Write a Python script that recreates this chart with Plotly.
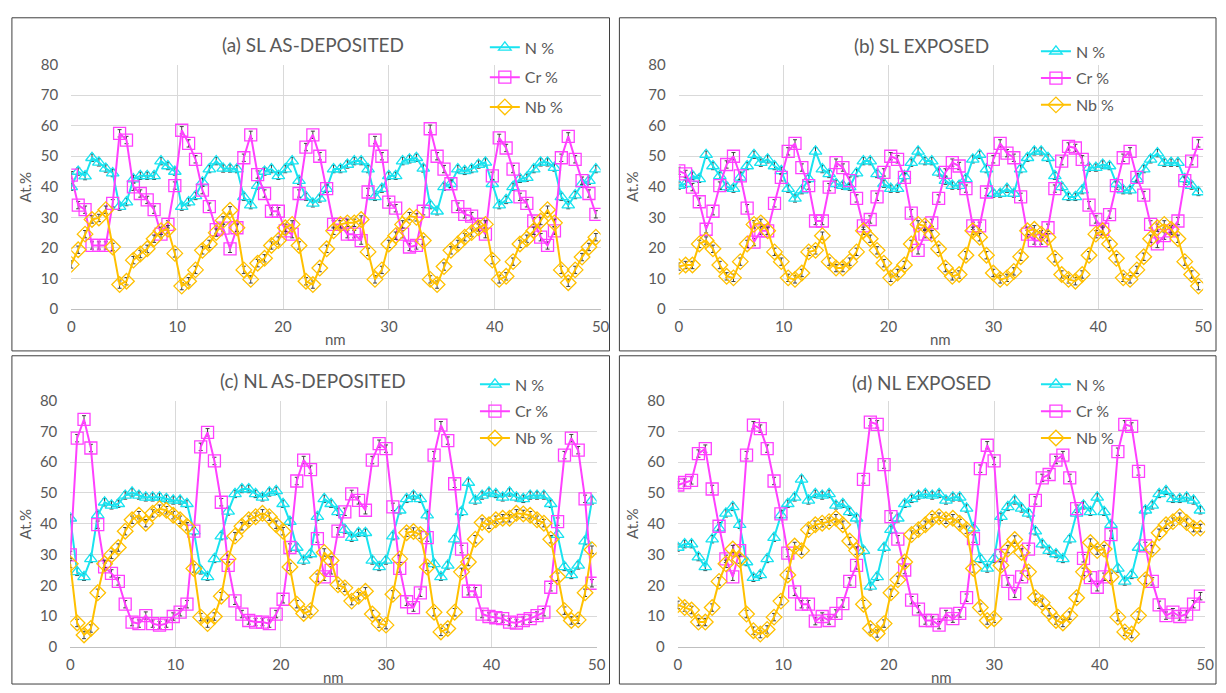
import plotly.graph_objects as go

# ---------------- data ----------------
STEP_NM = 0.652
N_POINTS = 77
depth_nm = [round(i * STEP_NM, 3) for i in range(N_POINTS)]

x_ticks = [0, 10, 20, 30, 40, 50]
y_ticks = [0, 10, 20, 30, 40, 50, 60, 70, 80]

panel_titles = ["(a) SL AS-DEPOSITED", "(b) SL EXPOSED", "(c) NL AS-DEPOSITED", "(d) NL EXPOSED"]
series_names = ["N %", "Cr %", "Nb %"]

# (a) SL as-deposited
a_N = [40, 45, 43.5, 49.5, 48, 46, 44.5, 33.5, 35, 42.5, 43.6, 43.6, 43.6, 48.4, 46.8, 45, 33.5, 35, 37, 41.5,
       45.8, 48.4, 46, 46, 45.8, 36.7, 34, 40.4, 45, 45.8, 43.6, 45.8, 48.4, 42, 36.7, 34.6, 36.2, 39.4, 45.8, 45.8,
       47.3, 48.4, 48.4, 45.8, 36.7, 39.4, 43.6, 43.6, 48.4, 49, 49.5, 46, 34, 32, 40, 41, 45.8, 45.2, 45.8, 47.3,
       48, 41, 34, 35.7, 40, 42.6, 43, 45.8, 48, 48, 46.3, 36.7, 34, 37.3, 41, 42, 45.8]
a_Cr = [43.8, 34, 32.5, 20.8, 20.8, 20.8, 34.6, 57.5, 55.3, 40, 37.8, 35.7, 32.5, 24.5, 27.7, 40.4, 58.5, 54.2, 49, 38.9,
        33.5, 26, 26.5, 19.7, 26.6, 49.5, 57, 44, 37.8, 32, 32, 25.6, 24.5, 37.8, 53, 57, 50, 39.4, 27.7, 27.7,
        24.5, 24.5, 22.4, 38.3, 55.3, 50, 35, 33, 24.5, 20.3, 20.8, 32, 59, 50, 45.8, 41, 33.5, 31, 30.4, 27.7,
        24.5, 43.6, 56, 52.7, 45.8, 36.7, 34.6, 28.8, 23.5, 20.8, 25.6, 49.5, 56.5, 49, 42, 37.8, 31]
a_Nb = [14.6, 19.4, 24.5, 29.3, 29.8, 32.5, 20.3, 8, 9.1, 16, 18, 19.7, 23, 25.6, 26.1, 18.2, 7.5, 9.1, 12.8, 19.2,
        21.3, 25, 29, 32.3, 26.6, 12.8, 9.7, 15, 16.6, 20.8, 22.4, 26.6, 27.7, 20.8, 9.1, 8, 13.4, 19.7, 25.6, 27.7,
        28.2, 28.2, 29.3, 18.7, 9.7, 12.8, 21.3, 24, 27.7, 30.4, 30, 22.4, 9.7, 8, 13.9, 19.2, 21.3, 23.5, 25, 26.6,
        27.7, 16, 9.7, 10.7, 15.5, 21.3, 23, 25.6, 28.8, 32.5, 28.2, 12.8, 8.6, 12.8, 17, 20.3, 23.5]

# (b) SL exposed
b_N = [40.4, 41, 43.6, 42.6, 50.5, 46.8, 43.6, 40, 39.4, 43.1, 46.8, 50.5, 47.9, 49, 46.8, 45.2, 39.4, 36.2, 38.9, 42.6,
       51.6, 45.8, 44.2, 41, 40.4, 40, 44.5, 48.4, 48.4, 44.2, 41, 39.4, 39.4, 43.6, 47.9, 51.6, 48.4, 48.4, 44.7, 42,
       40.4, 40.4, 42.6, 49, 50.5, 45.8, 37.8, 37.8, 39.4, 37.8, 45.8, 49.5, 51.6, 51.6, 49.5, 43.6, 40, 36.7, 36.7, 38.9,
       46.3, 46.3, 47.3, 46.8, 41, 38.9, 38.9, 42.6, 45.8, 49, 51, 47.9, 47.9, 47.9, 42.6, 40.4, 38.3]
b_Cr = [45.2, 44.2, 39.9, 35.1, 26.1, 32, 40.4, 47.3, 50, 43.6, 33, 21.9, 25.6, 25.6, 34.6, 43.1, 51.6, 54.2, 46.3, 40.4,
        28.8, 28.8, 39.9, 47.9, 46.3, 42, 36.2, 27.2, 29.3, 36.7, 44.7, 50, 49, 43.1, 31.4, 19.2, 24.5, 28.2, 36.2, 44.7,
        47.9, 46.8, 39.4, 27.2, 27.2, 38.3, 49, 54.2, 51, 49.5, 36.7, 24.5, 22.4, 22.4, 26.6, 39.4, 48.4, 53.2, 52.7, 49,
        34, 29.3, 26.1, 30.9, 40.4, 49.5, 51.6, 43.1, 37.3, 27.7, 21.3, 24, 25.6, 28.8, 42, 48.4, 54.2]
b_Nb = [13.9, 14.4, 14.4, 21.3, 22.4, 19.7, 14.4, 10.7, 10.2, 15.5, 21.3, 27.7, 28.2, 25.6, 18.7, 15.5, 10.2, 9.7, 11.8, 18.7,
        19.2, 24, 15.5, 13.4, 13.4, 15.5, 18.7, 25.6, 23, 19.2, 15, 10.2, 11.8, 14.4, 21.3, 27.7, 27.2, 24.5, 19.7, 13.4,
        10.7, 11.3, 17.6, 25.6, 23.5, 17.6, 11.8, 9.7, 10.2, 12.3, 17.1, 25.6, 26.1, 24.5, 23.5, 16.6, 11.3, 9.7, 9.1, 11.3,
        17.6, 24.5, 25.6, 21.3, 16.6, 10.2, 9.7, 12.8, 17.1, 23, 26.6, 27.7, 26.1, 23, 15.5, 11.3, 7.5]

# (c) NL as-deposited
c_N = [41.8, 24.4, 22.8, 28.6, 42.8, 47, 46, 46.5, 49.2, 50.2, 49.2, 48.6, 48.6, 48.6, 48.1, 47.6, 47.6, 46.5, 37.6, 24.9,
       22.8, 28.6, 36, 44, 49.7, 51.3, 51.3, 49.7, 48.6, 50.2, 50.7, 46.5, 40.7, 32.3, 28.1, 30.2, 42.3, 48.1, 46.5, 43.9,
       38.1, 35.5, 37.1, 37.1, 28.1, 26, 28.1, 36, 44.4, 48.1, 49.2, 48.1, 42.8, 27, 22.8, 26.5, 35, 43.9, 53.4, 47.6,
       49.2, 50.2, 49.7, 48.6, 50.2, 48.6, 48.1, 49.2, 49.2, 49.2, 46.5, 36.5, 26, 23.4, 26.5, 34.4, 47.6]
c_Cr = [29.9, 67.8, 73.9, 64.6, 39.7, 26, 23.9, 21.3, 13.9, 8.1, 7.6, 10.2, 7.6, 7.1, 7.6, 9.9, 11.3, 13.9, 37.6, 65,
        69.7, 60.4, 47, 26.5, 15, 10.7, 8.6, 8.1, 8.1, 7.6, 10.7, 15.5, 32.3, 53.9, 60.7, 57.6, 35.2, 22.8, 24.9, 37.6,
        43.9, 49.7, 47.6, 44.4, 60.7, 66, 64.4, 45.5, 25.5, 14.7, 12.8, 17.6, 35.5, 62.3, 72, 67, 53, 31.8, 18.1, 18.1,
        10.7, 9.9, 9.5, 9.2, 8.1, 7.8, 8.6, 9.2, 10.2, 11.3, 19.4, 40.7, 62.3, 67.8, 63.9, 48.1, 20.7]
c_Nb = [27, 7.8, 3.9, 6, 17.6, 27, 29.9, 32.3, 37.6, 41.3, 42.8, 40.2, 43.4, 44.9, 44.4, 42.8, 41.3, 39.2, 25.5, 9.7,
        7.6, 9.9, 16.5, 28.6, 36, 39.2, 41.3, 42.3, 43.4, 42.3, 39.7, 37.6, 26, 13.9, 10.9, 11.8, 22.5, 30.7, 28.1, 20.2,
        19.2, 14.9, 16.5, 18.1, 10.7, 7.6, 7.1, 17.1, 28.6, 37.1, 37.5, 36.5, 26, 11.3, 4.9, 6, 11.3, 24.4, 27.6, 35,
        40.4, 39.7, 41.3, 41.8, 41.8, 43.4, 43.2, 42.8, 41.3, 40.2, 35, 22.8, 11.8, 8.6, 8.8, 17.6, 31.6]

# (d) NL exposed
d_N = [32.3, 33.4, 33.4, 29.2, 26, 35, 38.6, 43.4, 45.5, 39.7, 27.6, 22.5, 23.4, 28.6, 35.5, 42.8, 46.5, 48.6, 54.4, 47.6,
       49.7, 49.2, 49.7, 46, 46.5, 43.9, 41.8, 31.3, 19.7, 22.8, 32.3, 38.1, 41.8, 46.5, 48.1, 49.2, 49.7, 49.2, 49.7, 47.6,
       48.6, 48.6, 45, 38.6, 28.6, 25.5, 28.6, 42.3, 45.5, 47.6, 45, 43.4, 37.6, 33.4, 31.3, 30.2, 28.6, 35, 43.4, 46,
       43.9, 48.6, 43.9, 39.7, 25.5, 21.3, 23.4, 32.3, 44.4, 46, 49.7, 50.7, 48.1, 48.1, 48.6, 47.6, 44.4]
d_Cr = [52.6, 53.4, 54.1, 62.8, 64.4, 51.3, 39.2, 28.6, 22.8, 31.3, 62.3, 72, 70.9, 64.4, 53.9, 43.2, 30.5, 17.9, 13.9, 13.9,
        8.4, 9.9, 8.6, 10.9, 14.1, 21.3, 26.5, 54.4, 73, 72.3, 59.2, 42.3, 35, 25, 15.2, 12.3, 8.6, 8.6, 7.1, 10.7,
        9.2, 10.9, 16, 35.2, 57.9, 65.5, 60.4, 29.7, 21.3, 17.3, 22.8, 31.8, 47.6, 54.9, 56, 60.7, 62.3, 54.9, 44.9, 28.8,
        22.5, 19.4, 22.8, 36.5, 63.4, 72.3, 71.6, 57, 32.8, 21.3, 13.7, 10.2, 11.3, 9.9, 10.7, 13.9, 16.5]
d_Nb = [13.7, 12.8, 12, 8.1, 8.1, 12.8, 21.3, 27, 31.8, 28.4, 10.7, 5.3, 4.2, 5.7, 9.7, 14.9, 23.4, 32.8, 31.3, 38.1,
        39.7, 40.2, 40.7, 41.8, 39.7, 34.4, 31.3, 13.9, 6, 4.4, 7.6, 17.6, 21.8, 27.6, 36.5, 38.1, 39.7, 41.8, 42.3, 41.3,
        41.8, 40.2, 38.1, 25.5, 12.8, 8.6, 9.2, 26.5, 31.8, 34.9, 30.7, 24.4, 16, 14.4, 11.3, 8.6, 7.8, 10.2, 16, 24.4,
        33.9, 31.3, 31.8, 22.8, 9.7, 4.9, 4.2, 10.2, 21.8, 31.8, 37.1, 39.7, 40.7, 42.3, 40.4, 38.6, 38.6]

panels_data = [(a_N, a_Cr, a_Nb), (b_N, b_Cr, b_Nb), (c_N, c_Cr, c_Nb), (d_N, d_Cr, d_Nb)]

# ---------------- styling ----------------
W, H = 1226, 693
FONT = "Lato, 'Open Sans', sans-serif"
GREY_TXT = "#595959"
colors = ["#19E3F0", "#FF40FF", "#FFC000"]
symbols = ["triangle-up-open", "square-open", "diamond-open"]
msizes = [11, 12, 12]

def px_x(v):
    return v / W

def px_y(v):
    return 1 - v / H

# plot areas in pixels: (left, right, top, bottom)
areas = [(68, 603, 56, 307), (682, 1212, 56, 307), (67, 599, 401, 654), (681, 1214, 401, 654)]
boxes = [(8, 8, 612, 350), (622, 8, 1225, 350), (8, 355, 612, 692), (622, 355, 1225, 692)]
title_pos = [(312, 35), (927, 36), (312, 380), (927, 382)]
legend_pos = [(486, 21, 6), (1043, 25, 3), (476, 367, 3), (1043, 367, 3)]

fig = go.Figure()
layout = dict(
    width=W, height=H,
    margin=dict(l=0, r=0, t=0, b=0),
    paper_bgcolor="white", plot_bgcolor="white",
    font=dict(family=FONT, color=GREY_TXT, size=14),
    showlegend=True,
    shapes=[], annotations=[],
)

for p in range(4):
    ax = "" if p == 0 else str(p + 1)
    lg = "legend" if p == 0 else "legend" + str(p + 1)
    L, R, T, B = areas[p]
    layout["xaxis" + ax] = dict(
        domain=[px_x(L), px_x(R)], range=[0, 50], tickvals=x_ticks,
        anchor="y" + ax, showgrid=True, gridcolor="#D9D9D9", gridwidth=1,
        zeroline=False, showline=True, linecolor="#BFBFBF", linewidth=1,
        ticks="outside", ticklen=4, tickcolor="rgba(0,0,0,0)",
        tickfont=dict(size=15, color=GREY_TXT),
    )
    layout["yaxis" + ax] = dict(
        domain=[px_y(B), px_y(T)], range=[0, 80], tickvals=y_ticks,
        anchor="x" + ax, showgrid=True, gridcolor="#D9D9D9", gridwidth=1,
        zeroline=False, showline=False,
        ticks="outside", ticklen=9, tickcolor="rgba(0,0,0,0)",
        tickfont=dict(size=15, color=GREY_TXT),
    )
    lx, ly, gap = legend_pos[p]
    layout[lg] = dict(
        x=px_x(lx), y=px_y(ly), xanchor="left", yanchor="top",
        bgcolor="rgba(0,0,0,0)", font=dict(size=16, color=GREY_TXT, family=FONT),
        tracegroupgap=gap, itemwidth=30,
    )
    for s in range(3):
        vals = panels_data[p][s]
        fig.add_trace(go.Scatter(
            x=depth_nm, y=vals, name=series_names[s], mode="lines+markers",
            xaxis="x" + ax, yaxis="y" + ax, legend=lg, legendgroup=f"p{p}s{s}",
            line=dict(color=colors[s], width=2),
            marker=dict(symbol=symbols[s], size=msizes[s], color=colors[s], line=dict(width=1.3, color=colors[s])),
            error_y=dict(type="constant", value=1.2, color="#404040", thickness=1, width=2),
        ))
    # panel border
    bx0, by0, bx1, by1 = boxes[p]
    layout["shapes"].append(dict(type="rect", xref="paper", yref="paper",
                                 x0=px_x(bx0), x1=px_x(bx1), y0=px_y(by1), y1=px_y(by0),
                                 line=dict(color="#3F3F3F", width=1), fillcolor="rgba(0,0,0,0)"))
    # title
    tx, ty = title_pos[p]
    layout["annotations"].append(dict(text=panel_titles[p], xref="paper", yref="paper",
                                      x=px_x(tx), y=px_y(ty), xanchor="center", yanchor="middle",
                                      showarrow=False, font=dict(size=19, color=GREY_TXT, family=FONT)))
    # axis titles
    layout["annotations"].append(dict(text="nm", xref="paper", yref="paper",
                                      x=px_x((L + R) / 2), y=px_y(B + 31), xanchor="center", yanchor="middle",
                                      showarrow=False, font=dict(size=15, color=GREY_TXT, family=FONT)))
    layout["annotations"].append(dict(text="At.%", xref="paper", yref="paper", textangle=-90,
                                      x=px_x(bx0 + 13), y=px_y((T + B) / 2),
                                      xanchor="center", yanchor="middle",
                                      showarrow=False, font=dict(size=15, color=GREY_TXT, family=FONT)))

fig.update_layout(**layout)
fig.write_html("out.html",
               config={"displayModeBar": False},
               post_script="document.body.style.margin='0px';document.body.style.overflow='hidden';")
